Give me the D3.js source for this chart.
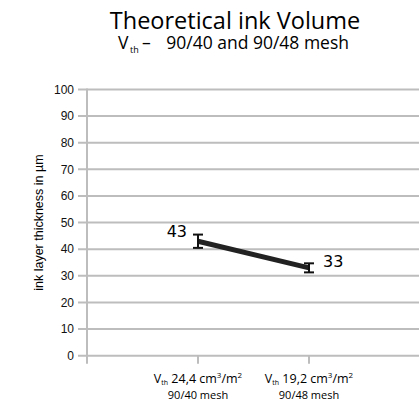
<!DOCTYPE html>
<html>
<head>
<meta charset="utf-8">
<script src="https://cdn.jsdelivr.net/npm/d3@7"></script>
<style>
  body { margin: 0; background: #fff; }
  svg { display: block; }
</style>
</head>
<body>
<svg id="chart"></svg>
<script>
const categories = ["vth24", "vth19"];
const catLabels = [
  { vol: "24,4", mesh: "90/40 mesh" },
  { vol: "19,2", mesh: "90/48 mesh" }
];
const values = [43, 33];
const errors = [2.5, 1.7];
const yTicks = [0, 10, 20, 30, 40, 50, 60, 70, 80, 90, 100];

const width = 419;
const height = 403;

const svg = d3.select("#chart").attr("width", width).attr("height", height);

const x = d3.scalePoint().domain(categories).range([87, 420]).padding(1);
const y = d3.scaleLinear().domain([0, 100]).range([355.7, 89.5]);

const humanist = "'Open Sans', 'Noto Sans', sans-serif";

// gridlines
svg.append("g")
  .selectAll("line")
  .data(yTicks)
  .join("line")
  .attr("x1", 78)
  .attr("x2", width)
  .attr("y1", (d) => y(d))
  .attr("y2", (d) => y(d))
  .attr("stroke", "#bdbdbd")
  .attr("stroke-width", 2);

// y axis line
svg.append("line")
  .attr("x1", 87).attr("x2", 87)
  .attr("y1", y(100) - 1).attr("y2", y(0) + 8)
  .attr("stroke", "#bdbdbd")
  .attr("stroke-width", 2);

// x ticks
svg.append("g")
  .selectAll("line")
  .data(categories)
  .join("line")
  .attr("x1", (d) => x(d))
  .attr("x2", (d) => x(d))
  .attr("y1", y(0))
  .attr("y2", y(0) + 8)
  .attr("stroke", "#bdbdbd")
  .attr("stroke-width", 2);

// y tick labels
svg.append("g")
  .selectAll("text")
  .data(yTicks)
  .join("text")
  .attr("x", 74)
  .attr("y", (d) => y(d))
  .attr("dy", "0.35em")
  .attr("text-anchor", "end")
  .attr("font-family", "'Liberation Sans', Arial, sans-serif")
  .attr("font-size", 12)
  .attr("fill", "#111")
  .text((d) => d);

// y axis title
svg.append("text")
  .attr("transform", "translate(43," + ((y(0) + y(100)) / 2) + ") rotate(-90)")
  .attr("text-anchor", "middle")
  .attr("font-family", "'Liberation Sans', Arial, sans-serif")
  .attr("font-size", 12.5)
  .attr("fill", "#000")
  .text("ink layer thickness in µm");

// x tick labels
const xl = svg.append("g")
  .selectAll("g")
  .data(categories)
  .join("g")
  .attr("transform", (d) => "translate(" + x(d) + ",0)")
  .attr("font-family", humanist)
  .attr("fill", "#000")
  .attr("text-anchor", "middle");

xl.append("text")
  .attr("y", 383)
  .attr("font-size", 12.5)
  .each(function (d, i) {
    const t = d3.select(this);
    t.append("tspan").text("V");
    t.append("tspan").attr("font-size", 7).attr("dy", 2).text("th");
    t.append("tspan").attr("dy", -2).text(" " + catLabels[i].vol + " cm");
    t.append("tspan").attr("font-size", 8).attr("dy", -5).text("3");
    t.append("tspan").attr("dy", 5).text("/m");
    t.append("tspan").attr("font-size", 8).attr("dy", -5).text("2");
  });

xl.append("text")
  .attr("y", 399)
  .attr("font-size", 11)
  .text((d, i) => catLabels[i].mesh);

// line
const line = d3.line()
  .x((d, i) => x(categories[i]))
  .y((d) => y(d));

svg.append("path")
  .datum(values)
  .attr("d", line)
  .attr("fill", "none")
  .attr("stroke", "#222")
  .attr("stroke-width", 5);

// error bars
const eb = svg.append("g")
  .selectAll("g")
  .data(values)
  .join("g")
  .attr("stroke", "#111")
  .attr("stroke-width", 2);

eb.append("line")
  .attr("x1", (d, i) => x(categories[i]))
  .attr("x2", (d, i) => x(categories[i]))
  .attr("y1", (d, i) => y(d + errors[i]))
  .attr("y2", (d, i) => y(d - errors[i]));

eb.selectAll(".cap")
  .data((d, i) => [[i, d + errors[i]], [i, d - errors[i]]])
  .join("line")
  .attr("class", "cap")
  .attr("x1", (d) => x(categories[d[0]]) - 5)
  .attr("x2", (d) => x(categories[d[0]]) + 5)
  .attr("y1", (d) => y(d[1]))
  .attr("y2", (d) => y(d[1]));

// value labels
svg.append("g")
  .selectAll("text")
  .data(values)
  .join("text")
  .attr("x", (d, i) => x(categories[i]) + (i === 0 ? -11 : 14))
  .attr("y", (d, i) => y(d) + (i === 0 ? -4 : -1))
  .attr("text-anchor", (d, i) => (i === 0 ? "end" : "start"))
  .attr("font-family", "'DejaVu Sans', sans-serif")
  .attr("font-size", 16)
  .attr("fill", "#000")
  .text((d) => d);

// titles
svg.append("text")
  .attr("x", 235)
  .attr("y", 29)
  .attr("text-anchor", "middle")
  .attr("font-family", humanist)
  .attr("font-size", 23.5)
  .attr("fill", "#000")
  .text("Theoretical ink Volume");

const sub = svg.append("g")
  .attr("font-family", humanist)
  .attr("fill", "#000");
sub.append("text").attr("x", 118).attr("y", 49).attr("font-size", 17.5).text("V");
sub.append("text").attr("x", 130).attr("y", 53).attr("font-size", 9).text("th");
sub.append("text").attr("x", 142).attr("y", 49).attr("font-size", 17.5).text("–");
sub.append("text").attr("x", 349).attr("y", 49).attr("font-size", 17.5)
  .attr("text-anchor", "end")
  .text("90/40 and 90/48 mesh");
</script>
</body>
</html>
